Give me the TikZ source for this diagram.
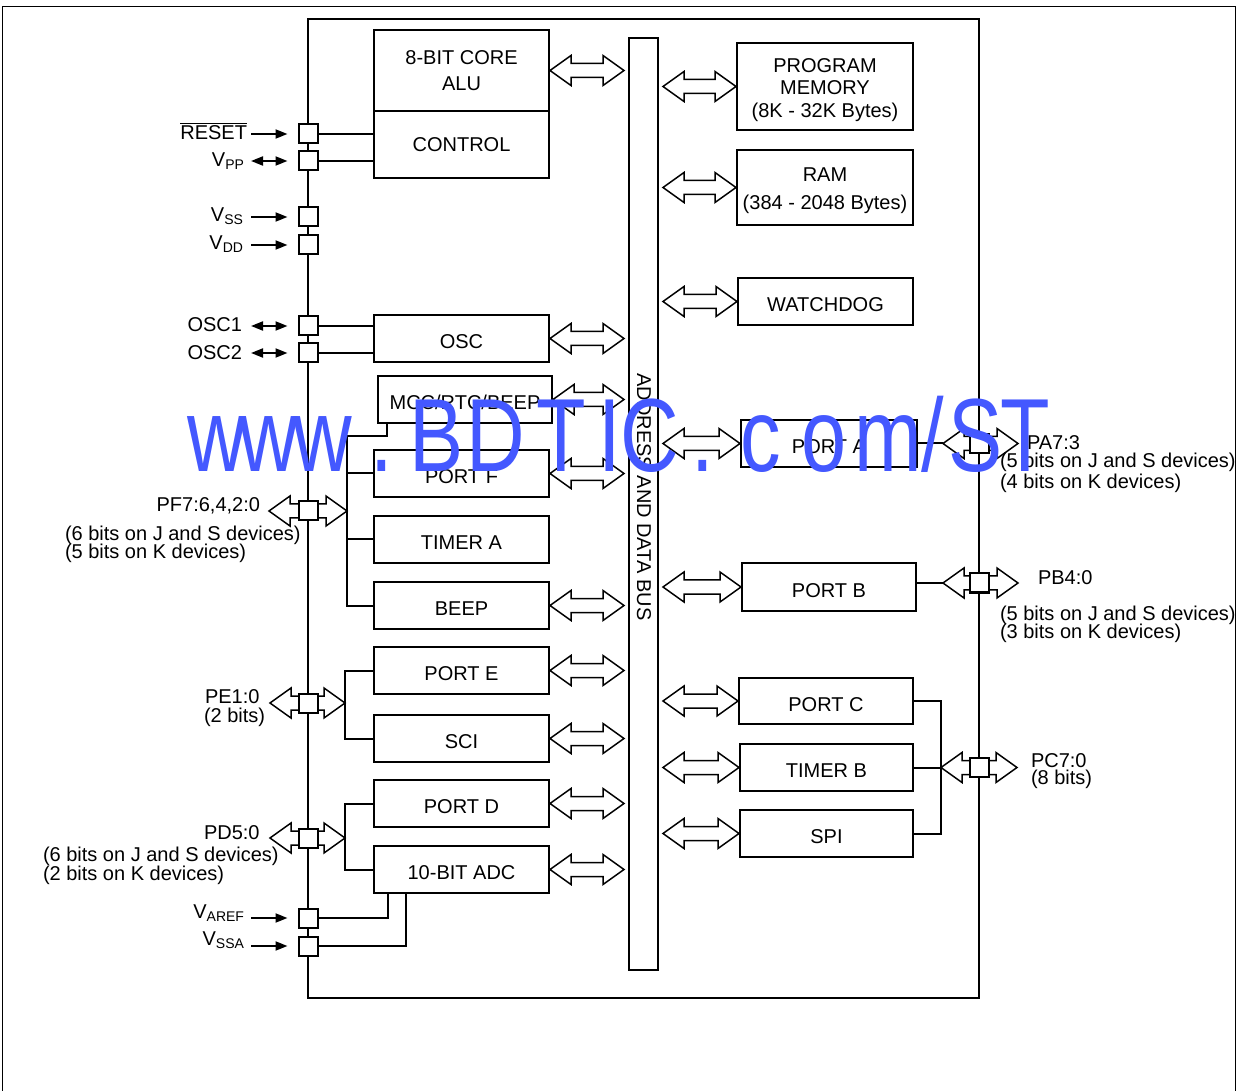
\documentclass[tikz,border=0pt]{standalone}
\usepackage{fontspec}
\setmainfont{Liberation Sans}
\usetikzlibrary{arrows.meta, calc, backgrounds}

\definecolor{wmblue}{RGB}{68,88,255}

% hollow double arrow between two points (same height)
\newcommand{\busarrow}[2]{%
  \draw[hollow] let \p1=#1, \p2=#2 in
    (\x1,\y1) -- ++(10.5pt,7.5pt) -- ++(0,-4pt) -- (\x2-10.5pt,\y1+3.5pt)
    -- ++(0,4pt) -- (\x2,\y1) -- ++(-10.5pt,-7.5pt) -- ++(0,4pt)
    -- (\x1+10.5pt,\y1-3.5pt) -- ++(0,-4pt) -- cycle;}
\newcommand{\topstrut}{\rule{0pt}{10.4pt}}

\begin{document}
\begin{tikzpicture}[
    x=0.5pt, y=-0.5pt,
    font=\fontsize{10}{11.5}\selectfont,
    line width=1pt,
    box/.style={draw, minimum width=87.5pt, minimum height=23.5pt, inner sep=0pt, align=center},
    block/.style={box, text height=10.2pt, text depth=0pt},
    padbox/.style={draw, fill=white, minimum size=9.5pt, inner sep=0pt},
    hollow/.style={draw, fill=white, line width=0.75pt},
    sig/.style={-{Triangle[length=6pt,width=4.5pt]}, shorten >=5pt},
    sigboth/.style={{Triangle[length=6pt,width=4.5pt]}-{Triangle[length=6pt,width=4.5pt]}, shorten >=5pt},
    pinlabel/.style={inner sep=0pt},
    wmark/.style={text=wmblue, inner sep=0pt, anchor=base, xscale=0.78,
        font=\fontsize{52}{60}\selectfont}
    ]
    \useasboundingbox (0,0) rectangle (1244,1091);
    \draw[line width=0.5pt] (2,1091) -- (2,7) -- (1235,7) -- (1235,1091);
    \draw[line width=1.25pt] (308,19) rectangle (979,998);

    % bus
    \node[draw, minimum width=14.5pt, minimum height=466pt, inner sep=0pt] (bus) at (643.5,504) {};
    \node[rotate=-90] (buslabel) at (644,497) {ADDRESS AND DATA BUS};

    % left blocks
    \node[box, minimum height=40.5pt] (alu) at (461.5,70.5) {8-BIT CORE\\[1.5pt]ALU};
    \node[box, minimum height=33.5pt] (control) at (461.5,144.5) {CONTROL};
    \node[block] (osc) at (461.5,338.5) {OSC};
    \node[block, minimum width=87pt] (mcc) at (465,399.5) {MCC/RTC/BEEP};
    \node[block] (portf) at (461.5,473.5) {PORT F};
    \node[block] (timera) at (461.5,539.5) {TIMER A};
    \node[block] (beep) at (461.5,605.5) {BEEP};
    \node[block] (porte) at (461.5,670.5) {PORT E};
    \node[block] (sci) at (461.5,738.5) {SCI};
    \node[block] (portd) at (461.5,803.5) {PORT D};
    \node[block] (adc) at (461.5,869.5) {10-BIT ADC};

    % right blocks
    \node[box, minimum width=88pt, minimum height=43.5pt] (progmem) at (825,86.5) {\topstrut PROGRAM\\[-0.25pt]MEMORY\\[-0.25pt](8K - 32K Bytes)};
    \node[box, minimum width=88pt, minimum height=37.5pt] (ram) at (825,187.5) {\topstrut RAM\\[2.5pt](384 - 2048 Bytes)};
    \node[block] (wdog) at (825.5,301.5) {WATCHDOG};
    \node[block, minimum width=88pt] (porta) at (829,443.5) {PORT A};
    \node[block, minimum width=87pt, minimum height=24pt] (portb) at (829,587) {PORT B};
    \node[block, minimum width=87pt, minimum height=23pt] (portc) at (826,701) {PORT C};
    \node[block, minimum width=86.5pt] (timerb) at (826.5,767.5) {TIMER B};
    \node[block, minimum width=86.5pt] (spi) at (826.5,833.5) {SPI};

    % pins
    \foreach \n/\y in {reset/134, vpp/161, vss/217, vdd/245, osc1/326, osc2/353, pf/511, pe/703, pd/838, varef/918, vssa/946}
        \node[padbox] (p\n) at (308,\y) {};
    \foreach \n/\y in {pa/443.5, pb/583, pc/767.5}
        \node[padbox] (p\n) at (979,\y) {};

    % bus arrows
    \foreach \b in {alu, osc, mcc, portf, beep, porte, sci, portd, adc}
        {\busarrow{(\b.east)}{($(\b.east -| bus.west)+(-2pt,0)$)}}
    \foreach \b in {progmem, ram, wdog, porta, portb, portc, timerb, spi}
        {\busarrow{($(\b.west -| bus.east)+(2pt,0)$)}{(\b.west)}}

    % pins to blocks
    \draw (preset) -- (preset -| control.west);
    \draw (pvpp) -- (pvpp -| control.west);
    \draw (posc1) -- (posc1 -| osc.west);
    \draw (posc2) -- (posc2 -| osc.west);
    \draw (pvaref) -| ([xshift=7.5pt]adc.south west);
    \draw (pvssa) -| ([xshift=16.5pt]adc.south west);

    \coordinate (fbr) at (347,436);
    \coordinate (ebr) at (345,0);
    \coordinate (cbr) at (941,0);
    \draw ([xshift=5pt]mcc.south west) |- (fbr) |- (beep.west);
    \draw (fbr |- portf.west) -- (portf.west);
    \draw (fbr |- timera.west) -- (timera.west);
    \draw (porte.west) -| (ebr |- sci.west) -- (sci.west);
    \draw (portd.west) -| (ebr |- adc.west) -- (adc.west);
    \draw (porta) -- ($(ppa)+(-18pt,0)$);
    \draw (portb.east |- ppb) -- ($(ppb)+(-18pt,0)$);
    \draw (portc.east) -| (cbr |- spi.east) -- (spi.east);
    \draw (timerb.east) -- (cbr |- timerb.east);

    \begin{scope}[on background layer]
        \busarrow{($(ppf)+(-19.5pt,0)$)}{(fbr |- ppf)}
        \busarrow{($(ppe)+(-19pt,0)$)}{(ebr |- ppe)}
        \busarrow{($(ppd)+(-19pt,0)$)}{(ebr |- ppd)}
        \busarrow{($(ppa)+(-18pt,0)$)}{($(ppa)+(19.5pt,0)$)}
        \busarrow{($(ppb)+(-18pt,0)$)}{($(ppb)+(19.5pt,0)$)}
        \busarrow{(cbr |- ppc)}{($(ppc)+(19pt,0)$)}
    \end{scope}

    % signal arrows
    \coordinate (sigx) at (251,0);
    \foreach \n in {reset, vss, vdd, varef, vssa}
        \draw[sig] (p\n -| sigx) -- (p\n);
    \foreach \n in {vpp, osc1, osc2}
        \draw[sigboth] (p\n -| sigx) -- (p\n);

    % labels
    \node[pinlabel, anchor=base east] (lreset) at (248,140) {$\overline{\mbox{RESET}}$};
    \node[pinlabel, anchor=base east] (lvpp) at (246,167) {V\textsubscript{PP}};
    \node[pinlabel, anchor=base east] (lvss) at (245,222) {V\textsubscript{SS}};
    \node[pinlabel, anchor=base east] (lvdd) at (245,250) {V\textsubscript{DD}};
    \node[pinlabel, anchor=base east] (losc1) at (243,332) {OSC1};
    \node[pinlabel, anchor=base east] (losc2) at (243,360) {OSC2};
    \node[pinlabel, anchor=base east] (lvaref) at (246,918) {V\textsubscript{AREF}};
    \node[pinlabel, anchor=base east] (lvssa) at (246,945) {V\textsubscript{SSA}};
    \node[pinlabel, anchor=base east] (lpf) at (261,512) {PF7:6,4,2:0};
    \node[pinlabel, anchor=base west] (lpfnote1) at (64,540) {(6 bits on J and S devices)};
    \node[pinlabel, anchor=base west] (lpfnote2) at (64,559) {(5 bits on K devices)};
    \node[pinlabel, anchor=base west] (lpe) at (204,704) {PE1:0};
    \node[pinlabel, anchor=base west] (lpenote) at (203,722) {(2 bits)};
    \node[pinlabel, anchor=base west] (lpd) at (203,839) {PD5:0};
    \node[pinlabel, anchor=base west] (lpdnote1) at (42,861) {(6 bits on J and S devices)};
    \node[pinlabel, anchor=base west] (lpdnote2) at (42,880) {(2 bits on K devices)};
    \node[pinlabel, anchor=base west] (lpa) at (1026,450) {PA7:3};
    \node[pinlabel, anchor=base west] (lpanote1) at (999,468) {(5 bits on J and S devices)};
    \node[pinlabel, anchor=base west] (lpanote2) at (999,488) {(4 bits on K devices)};
    \node[pinlabel, anchor=base west] (lpb) at (1037,585) {PB4:0};
    \node[pinlabel, anchor=base west] (lpbnote1) at (999,620) {(5 bits on J and S devices)};
    \node[pinlabel, anchor=base west] (lpbnote2) at (999,639) {(3 bits on K devices)};
    \node[pinlabel, anchor=base west] (lpc) at (1030,767) {PC7:0};
    \node[pinlabel, anchor=base west] (lpcnote) at (1030,784) {(8 bits)};

    % watermark
    \foreach \c/\x [count=\i] in {w/217, w/268.5, w/322.5, ./381.5, B/436.5, D/496, T/561, I/609.5,
        C/650, ./702.5, c/760.5, o/824, m/888, {/}/933, S/975.5, T/1025}
        \node[wmark] (wm\i) at (\x,472) {\c};
\end{tikzpicture}
\end{document}
